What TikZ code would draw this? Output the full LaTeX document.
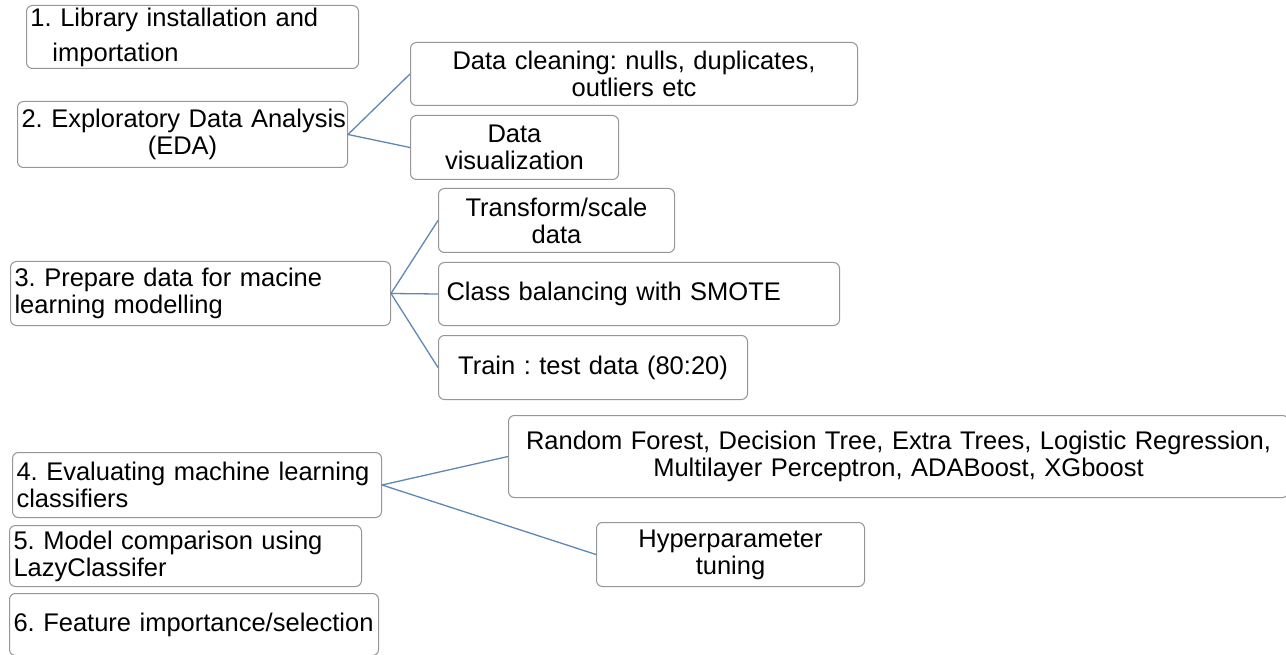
\documentclass[tikz,border=0pt]{standalone}
\usepackage{fontspec}
\setmainfont{Liberation Sans}
\newcommand\boxfont{\fontsize{25.5}{27}\selectfont\frenchspacing\hyphenpenalty=10000 }
\definecolor{boxgray}{RGB}{150,150,150}
\definecolor{linkblue}{RGB}{95,135,180}
\tikzset{
  stepbox/.style={draw=boxgray, rounded corners=6pt, line width=1pt,
    inner xsep=4pt, inner ysep=0pt, anchor=north west, font=\boxfont,
    text=black},
  link/.style={draw=linkblue, line width=1.3pt}
}
\begin{document}
\begin{tikzpicture}[x=1pt,y=-1pt]
\useasboundingbox (0,0) rectangle (1286,655);
% left column
\node[stepbox, text width=324pt, minimum height=63pt, align=left] (b1) at (26,5)
  {1. Library installation and\\[8pt]\hspace*{22pt}importation};
\node[stepbox, text width=322pt, minimum height=66pt, align=center] (b2) at (17,101)
  {\mbox{2. Exploratory Data Analysis}\\(EDA)};
\node[stepbox, text width=372pt, minimum height=64pt, align=left] (b3) at (10,261)
  {3. Prepare data for macine\\learning modelling};
\node[stepbox, text width=361pt, minimum height=65pt, align=left] (b4) at (12,452)
  {\mbox{4. Evaluating machine learning}\\classifiers};
\node[stepbox, text width=344pt, minimum height=61pt, align=left] (b5) at (9,525)
  {5. Model comparison using\\LazyClassifer};
\node[stepbox, text width=361pt, minimum height=62pt, align=left] (b6) at (9,593)
  {\mbox{6. Feature importance/selection}};
% EDA children
\node[stepbox, text width=439pt, minimum height=63pt, align=center] (c1) at (410,42)
  {Data cleaning: nulls, duplicates,\\outliers etc};
\node[stepbox, text width=200pt, minimum height=64pt, align=center] (c2) at (410,115)
  {Data\\visualization};
% preparation children
\node[stepbox, text width=228pt, minimum height=64pt, align=center] (d1) at (438,188)
  {Transform/scale\\data};
\node[stepbox, text width=385pt, minimum height=63pt, align=left, inner xsep=8pt] (d2) at (438,262)
  {Class balancing with SMOTE};
\node[stepbox, text width=301pt, minimum height=64pt, align=center] (d3) at (438,335)
  {Train : test data (80:20)};
% evaluation children
\node[stepbox, text width=772pt, minimum height=82pt, align=center] (e1) at (508,415)
  {Random Forest, Decision Tree, Extra Trees, Logistic Regression,\\Multilayer Perceptron, ADABoost, XGboost};
\node[stepbox, text width=260pt, minimum height=64pt, align=center] (e2) at (596,522)
  {Hyperparameter\\tuning};
% connectors
\draw[link] (b2.east) -- (c1.west);
\draw[link] (b2.east) -- (c2.west);
\draw[link] (b3.east) -- (d1.west);
\draw[link] (b3.east) -- (d2.west);
\draw[link] (b3.east) -- (d3.west);
\draw[link] (b4.east) -- (e1.west);
\draw[link] (b4.east) -- (e2.west);
\end{tikzpicture}
\end{document}
